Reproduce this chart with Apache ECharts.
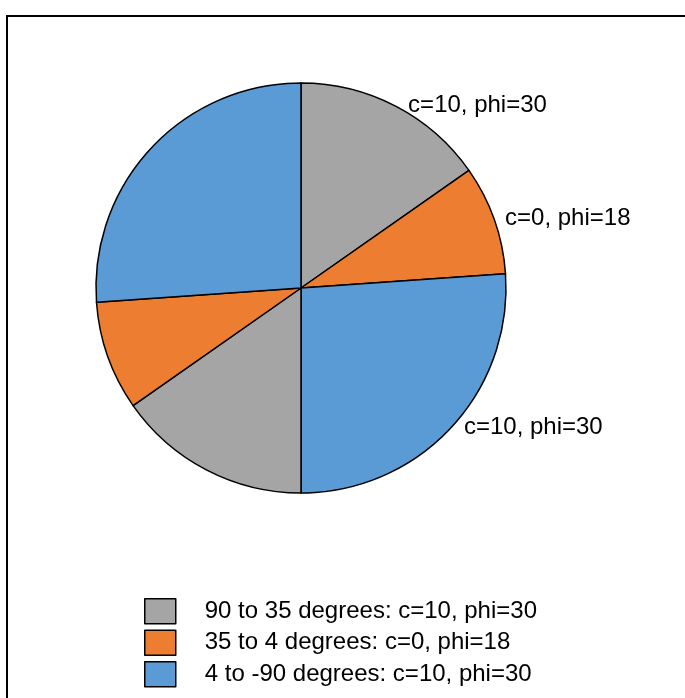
<!DOCTYPE html>
<html>
<head>
<meta charset="utf-8">
<script src="https://cdn.jsdelivr.net/npm/echarts@6/dist/echarts.min.js"></script>
<style>
  html, body { margin: 0; padding: 0; background: #fff; }
  #chart { width: 685px; height: 698px; }
</style>
</head>
<body>
<div id="chart"></div>
<script>
// ---- data ----
const categories = [
  '90 to 35 degrees: c=10, phi=30',
  '35 to 4 degrees: c=0, phi=18',
  '4 to -90 degrees: c=10, phi=30'
];
const categoryColors = ['#A5A5A5', '#ED7D31', '#5B9BD5'];
// slice angles (degrees), clockwise from 12 o'clock
const sliceValues = [55, 31, 94, 55, 31, 94];
const sliceCategory = [0, 1, 2, 0, 1, 2];
const sliceLabels = ['c=10, phi=30', 'c=0, phi=18', 'c=10, phi=30', '', '', ''];

// ---- label offsets (style only) ----
const lineLen = [1, 3, 0, 0, 0, 0];
const lineLen2 = [7, 3, 8, 0, 0, 0];

const FONT = '"Liberation Sans", Arial, sans-serif';

const pieData = sliceValues.map((v, i) => ({
  name: categories[sliceCategory[i]],
  value: v,
  itemStyle: { color: categoryColors[sliceCategory[i]] },
  label: { show: sliceLabels[i] !== '', formatter: sliceLabels[i] },
  labelLine: { show: false, length: lineLen[i], length2: lineLen2[i] }
}));

const chart = echarts.init(document.getElementById('chart'), null, { renderer: 'canvas' });
chart.setOption({
  animation: false,
  backgroundColor: '#fff',
  graphic: [{
    type: 'rect',
    shape: { x: 7, y: 16, width: 720, height: 720 },
    style: { fill: 'none', stroke: '#000', lineWidth: 2 },
    silent: true
  }],
  legend: {
    orient: 'vertical',
    left: 139,
    top: 593,
    data: categories,
    icon: 'rect',
    itemWidth: 31,
    itemHeight: 25,
    itemGap: 5,
    selectedMode: false,
    itemStyle: { borderColor: '#000', borderWidth: 1.5 },
    textStyle: {
      fontFamily: FONT,
      fontSize: 24,
      color: '#000',
      padding: [0, 0, 0, 24]
    }
  },
  series: [{
    type: 'pie',
    center: [301, 288],
    radius: 205,
    startAngle: 90,
    clockwise: true,
    avoidLabelOverlap: false,
    emphasis: { disabled: true },
    itemStyle: { borderColor: '#000', borderWidth: 1.5 },
    label: {
      position: 'outside',
      fontFamily: FONT,
      fontSize: 24,
      color: '#000'
    },
    labelLine: { show: false },
    data: pieData
  }]
});
</script>
</body>
</html>
